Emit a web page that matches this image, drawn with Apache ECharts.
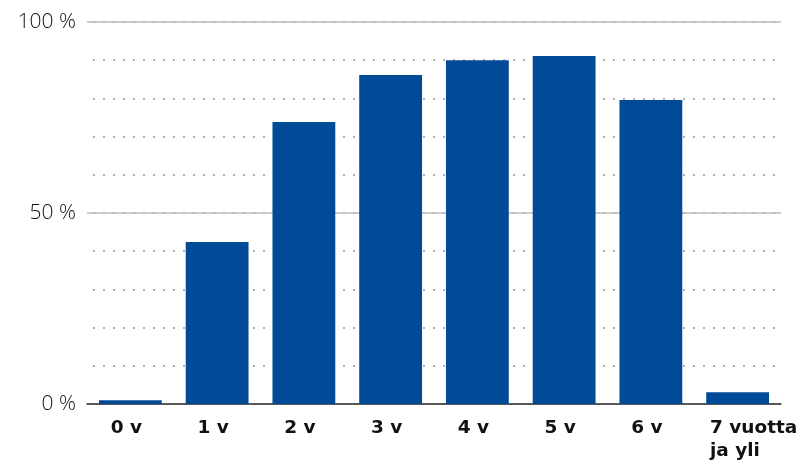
<!DOCTYPE html>
<html lang="fi">
<head>
    <meta charset="UTF-8">
    <script src="https://cdn.jsdelivr.net/npm/echarts@6/dist/echarts.min.js"></script>
    <title>Chart</title>
    <style>
        html, body { margin: 0; padding: 0; background: #fff; }
    </style>
</head>
<body>
<div id="main" style="width: 805px;height:467px;"></div>

<script type="text/javascript">
    // data
    var categories = ['0 v', '1 v', '2 v', '3 v', '4 v', '5 v', '6 v', '7 vuotta\nja yli'];
    var values = [1.0, 42.4, 73.8, 86.1, 90.0, 91.1, 79.6, 3.1];
    var majorTicks = [0, 50, 100];

    var myChart = echarts.init(document.getElementById('main'));

    var catData = [];
    for (var i = 0; i < categories.length; i++) {
        if (i === categories.length - 1) {
            catData.push({
                value: categories[i],
                textStyle: { padding: [0, 0, 0, 32] }
            });
        } else {
            catData.push({ value: categories[i] });
        }
    }

    var option = {
        animation: false,
        grid: {
            left: 87,
            right: 24,
            top: 22,
            bottom: 63
        },
        xAxis: {
            type: 'category',
            data: catData,
            axisTick: { show: false },
            axisLine: { lineStyle: { color: '#333', width: 1.5 } },
            axisLabel: {
                interval: 0,
                margin: 13,
                color: '#111',
                fontFamily: 'DejaVu Sans',
                fontWeight: 'bold',
                fontSize: 18.5,
                lineHeight: 23,
                padding: [0, 8, 0, 0],
                formatter: function (v) {
                    if (v.indexOf('\n') >= 0) {
                        var parts = v.split('\n');
                        return '{l|' + parts[0] + '}\n{l|' + parts[1] + '}';
                    }
                    return v;
                },
                rich: {
                    l: {
                        align: 'left',
                        fontFamily: 'DejaVu Sans',
                        fontWeight: 'bold',
                        fontSize: 18.5,
                        lineHeight: 23,
                        color: '#111'
                    }
                }
            }
        },
        yAxis: [{
            // minor dotted lines, drawn first
            type: 'value',
            min: 0,
            max: 100,
            interval: 10,
            position: 'left',
            axisLine: { show: false },
            axisTick: { show: false },
            axisLabel: { show: false },
            splitLine: { lineStyle: { color: '#b0b0b0', type: [2, 8], width: 2, dashOffset: -6 } }
        }, {
            type: 'value',
            min: 0,
            max: 100,
            interval: 50,
            position: 'left',
            axisLine: { show: false },
            axisTick: { show: false },
            axisLabel: {
                margin: 11,
                color: '#111',
                fontFamily: 'Open Sans',
                fontWeight: 300,
                fontSize: 21,
                formatter: function (v) {
                    return majorTicks.indexOf(v) >= 0 ? v + ' %' : '';
                }
            },
            splitLine: { lineStyle: { color: '#bbb', width: 1.5 } }
        }],
        series: [{
            type: 'bar',
            data: values,
            barCategoryGap: '27.6%',
            itemStyle: { color: '#004a98' },
            z: 5
        }]
    };
    myChart.setOption(option);
</script>
</body>
</html>
